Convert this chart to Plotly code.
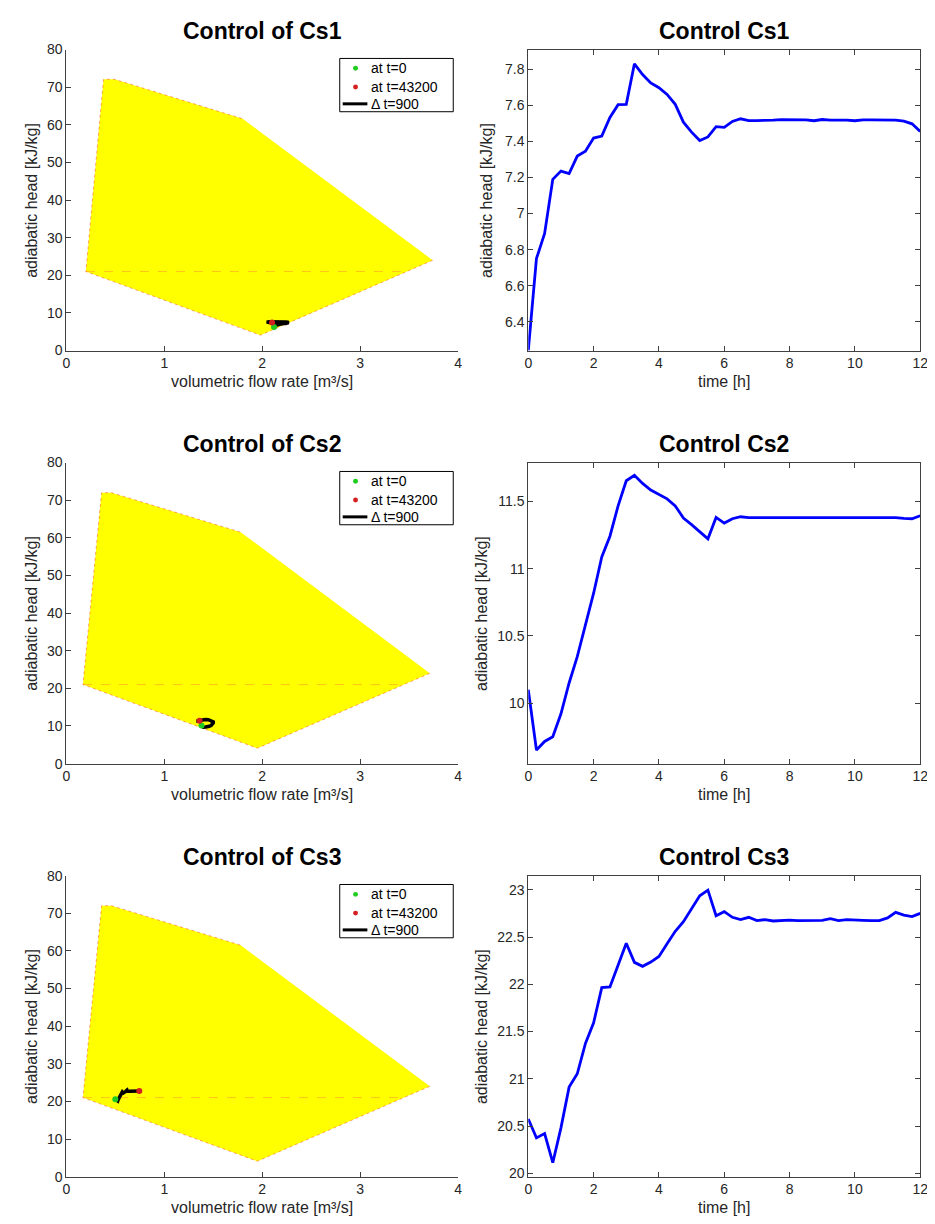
import plotly.graph_objects as go

W, H = 935, 1224

# ---------------- data ----------------
time_h = [0, 0.25, 0.5, 0.75, 1, 1.25, 1.5, 1.75, 2, 2.25, 2.5, 2.75, 3, 3.25, 3.5, 3.75,
          4, 4.25, 4.5, 4.75, 5, 5.25, 5.5, 5.75, 6, 6.25, 6.5, 6.75, 7, 7.25, 7.5, 7.75,
          8, 8.25, 8.5, 8.75, 9, 9.25, 9.5, 9.75, 10, 10.25, 10.5, 10.75, 11, 11.25, 11.5, 11.75, 12]

head_cs1 = [6.24, 6.75, 6.89, 7.19, 7.236, 7.222, 7.319, 7.346, 7.419, 7.43, 7.533, 7.604, 7.606,
            7.831, 7.771, 7.725, 7.698, 7.661, 7.606, 7.507, 7.452, 7.405, 7.425, 7.482, 7.478,
            7.511, 7.526, 7.516, 7.516, 7.516, 7.518, 7.521, 7.522, 7.519, 7.52, 7.515, 7.522,
            7.519, 7.52, 7.519, 7.515, 7.52, 7.52, 7.52, 7.519, 7.519, 7.513, 7.498, 7.456]

head_cs2 = [10.10, 9.651, 9.715, 9.75, 9.921, 10.15, 10.346, 10.592, 10.818, 11.088, 11.242,
            11.468, 11.655, 11.696, 11.635, 11.586, 11.556, 11.52, 11.468, 11.377, 11.328,
            11.277, 11.223, 11.382, 11.34, 11.372, 11.387, 11.38, 11.38, 11.38, 11.382, 11.385,
            11.385, 11.382, 11.382, 11.38, 11.385, 11.38, 11.382, 11.382, 11.38, 11.382, 11.382,
            11.382, 11.382, 11.38, 11.375, 11.372, 11.394]

head_cs3 = [20.575, 20.375, 20.42, 20.112, 20.481, 20.912, 21.053, 21.375, 21.593, 21.965,
            21.972, 22.207, 22.435, 22.232, 22.19, 22.235, 22.295, 22.428, 22.561, 22.663,
            22.796, 22.937, 22.996, 22.726, 22.768, 22.709, 22.684, 22.709, 22.674, 22.684,
            22.67, 22.674, 22.68, 22.674, 22.674, 22.674, 22.677, 22.695, 22.674, 22.684,
            22.677, 22.677, 22.674, 22.674, 22.702, 22.761, 22.733, 22.716, 22.75]

flow_cs1 = [2.12, 2.14, 2.17, 2.20, 2.22, 2.24, 2.25, 2.26, 2.27, 2.27, 2.26, 2.24, 2.22, 2.18,
            2.14, 2.11, 2.09, 2.07, 2.06, 2.06, 2.07, 2.08, 2.09, 2.10, 2.10, 2.10, 2.105, 2.105,
            2.105, 2.105, 2.105, 2.105, 2.105, 2.105, 2.105, 2.105, 2.105, 2.105, 2.105, 2.105,
            2.105, 2.105, 2.105, 2.105, 2.105, 2.105, 2.105, 2.10, 2.10]

flow_cs2 = [1.38, 1.40, 1.42, 1.44, 1.46, 1.48, 1.49, 1.50, 1.50, 1.50, 1.49, 1.47, 1.45, 1.42,
            1.40, 1.38, 1.36, 1.34, 1.33, 1.33, 1.33, 1.34, 1.35, 1.35, 1.36, 1.36, 1.36, 1.36,
            1.36, 1.36, 1.36, 1.36, 1.36, 1.36, 1.36, 1.36, 1.36, 1.36, 1.36, 1.36, 1.36, 1.36,
            1.36, 1.36, 1.36, 1.36, 1.36, 1.36, 1.36]

flow_cs3 = [0.50, 0.51, 0.52, 0.525, 0.53, 0.54, 0.545, 0.55, 0.555, 0.56, 0.562, 0.565, 0.57,
            0.575, 0.58, 0.585, 0.59, 0.595, 0.60, 0.605, 0.61, 0.615, 0.62, 0.625, 0.63, 0.635,
            0.64, 0.645, 0.65, 0.655, 0.66, 0.665, 0.67, 0.674, 0.678, 0.682, 0.686, 0.69, 0.694,
            0.698, 0.702, 0.706, 0.71, 0.715, 0.72, 0.725, 0.73, 0.737, 0.745]

# operating envelope (polygon vertices) for each compressor
env_flow_cs1 = [3.74, 1.98, 0.20, 0.38, 0.49, 1.80]
env_head_cs1 = [24.0, 4.1, 21.0, 72.1, 72.1, 61.6]
env_flow_cs2 = [3.71, 1.95, 0.17, 0.36, 0.46, 1.78]
env_head_cs2 = [24.0, 4.1, 21.0, 72.0, 72.0, 61.5]
env_flow_cs3 = [3.71, 1.95, 0.17, 0.36, 0.46, 1.78]
env_head_cs3 = [24.0, 4.1, 21.0, 72.0, 72.0, 61.5]
# internal dashed line of the envelope
mid_flow_cs1 = [0.20, 3.475]
mid_flow_cs2 = [0.17, 3.445]
mid_flow_cs3 = [0.17, 3.445]
mid_head = [21.0, 21.0]

names = ["Cs1", "Cs2", "Cs3"]
legend_labels = ["at t=0", "at t=43200", "\u0394 t=900"]
heads = [head_cs1, head_cs2, head_cs3]
flows = [flow_cs1, flow_cs2, flow_cs3]
env_f = [env_flow_cs1, env_flow_cs2, env_flow_cs3]
env_h = [env_head_cs1, env_head_cs2, env_head_cs3]
mid_f = [mid_flow_cs1, mid_flow_cs2, mid_flow_cs3]
right_ranges = [[6.24, 7.91], [9.55, 11.79], [19.965, 23.15]]
right_dticks = [0.2, 0.5, 0.5]
right_ylabel_x = [480, 475, 475]

# ---------------- layout geometry (pixels) ----------------
L_X0, L_X1 = 55, 452
R_X0, R_X1 = 523, 920
ROW_TOP = [34, 452.5, 871]
ROW_H = 305

FONT = "Liberation Sans, Arial, Helvetica, sans-serif"
TXT = "#262626"
AX = "#404040"
GREEN = "#1fcc1f"
RED = "#d42020"

fig = go.Figure()
annotations = []
shapes = []
layout_axes = {}


def px(x):
    return x / W


def py(y):
    return 1 - y / H


for i in range(3):
    top = ROW_TOP[i]
    bot = top + ROW_H
    xa_l = 2 * i + 1
    xa_r = 2 * i + 2
    sx_l = "" if xa_l == 1 else str(xa_l)
    sx_r = str(xa_r)

    # envelope polygon (fill) and its outline
    fig.add_trace(go.Scatter(
        x=env_f[i], y=env_h[i], mode="lines", fill="toself", fillcolor="#ffff00",
        line=dict(color="rgba(0,0,0,0)", width=0),
        showlegend=False, hoverinfo="skip", xaxis="x" + sx_l, yaxis="y" + sx_l))
    fig.add_trace(go.Scatter(
        x=env_f[i], y=env_h[i], mode="lines",
        line=dict(color="rgba(255,90,40,0.55)", width=1, dash="dot"),
        showlegend=False, hoverinfo="skip", xaxis="x" + sx_l, yaxis="y" + sx_l))
    fig.add_trace(go.Scatter(
        x=mid_f[i], y=mid_head, mode="lines",
        line=dict(color="rgba(255,120,60,0.45)", width=1, dash="dash"),
        showlegend=False, hoverinfo="skip", xaxis="x" + sx_l, yaxis="y" + sx_l))
    # trajectory
    fig.add_trace(go.Scatter(
        x=flows[i], y=heads[i], mode="lines", name=legend_labels[2],
        line=dict(color="black", width=3.5), showlegend=False,
        xaxis="x" + sx_l, yaxis="y" + sx_l))
    fig.add_trace(go.Scatter(
        x=[flows[i][0]], y=[heads[i][0]], mode="markers", name=legend_labels[0],
        marker=dict(color=GREEN, size=6), showlegend=False,
        xaxis="x" + sx_l, yaxis="y" + sx_l))
    fig.add_trace(go.Scatter(
        x=[flows[i][-1]], y=[heads[i][-1]], mode="markers", name=legend_labels[1],
        marker=dict(color=RED, size=6), showlegend=False,
        xaxis="x" + sx_l, yaxis="y" + sx_l))

    # time series
    fig.add_trace(go.Scatter(
        x=time_h, y=heads[i], mode="lines", line=dict(color="#0000ff", width=2.8),
        showlegend=False, xaxis="x" + sx_r, yaxis="y" + sx_r))

    dom_y = [py(bot), py(top)]
    common = dict(showgrid=False, zeroline=False, showline=True, linecolor=AX, linewidth=1,
                  ticks="inside", ticklen=5, tickcolor=AX, tickwidth=1,
                  tickfont=dict(family=FONT, size=14, color=TXT))
    layout_axes["xaxis" + sx_l] = dict(domain=[px(L_X0), px(L_X1)], range=[0, 4], dtick=1,
                                       tick0=0, anchor="y" + sx_l, mirror=False, **common)
    layout_axes["yaxis" + sx_l] = dict(domain=dom_y, range=[0, 80], dtick=10, tick0=0,
                                       anchor="x" + sx_l, mirror=False, **common)
    layout_axes["xaxis" + sx_r] = dict(domain=[px(R_X0), px(R_X1)], range=[0, 12], dtick=2,
                                       tick0=0, anchor="y" + sx_r, mirror="ticks", **common)
    layout_axes["yaxis" + sx_r] = dict(domain=dom_y, range=right_ranges[i],
                                       dtick=right_dticks[i], tick0=0,
                                       anchor="x" + sx_r, mirror="ticks", **common)

    # legend box (drawn manually to match the compact original)
    lx0, lx1 = 332, 447
    ly0, ly1 = top + 9, top + 63
    shapes.append(dict(type="rect", xref="paper", yref="paper",
                       x0=px(lx0), x1=px(lx1), y0=py(ly1), y1=py(ly0),
                       line=dict(color="black", width=1), fillcolor="white", layer="above"))
    rows = [top + 19, top + 38, top + 55]
    for col, ry in zip([GREEN, RED], rows[:2]):
        shapes.append(dict(type="circle", xref="paper", yref="paper",
                           x0=px(345.5), x1=px(350.5), y0=py(ry + 2.5), y1=py(ry - 2.5),
                           line=dict(color=col, width=0), fillcolor=col, layer="above"))
    shapes.append(dict(type="line", xref="paper", yref="paper",
                       x0=px(335), x1=px(360), y0=py(rows[2]), y1=py(rows[2]),
                       line=dict(color="black", width=3), layer="above"))
    for lab, ry in zip(legend_labels, rows):
        annotations.append(dict(text=lab, x=px(362), y=py(ry), xref="paper", yref="paper",
                                showarrow=False, xanchor="left", yanchor="middle",
                                font=dict(family=FONT, size=14, color="black")))

    # titles
    annotations.append(dict(text=f"<b>Control of {names[i]}</b>", x=px((L_X0 + L_X1) / 2),
                            y=py(top - 19), xref="paper", yref="paper", showarrow=False,
                            xanchor="center", yanchor="middle",
                            font=dict(family=FONT, size=23, color="black")))
    annotations.append(dict(text=f"<b>Control {names[i]}</b>", x=px((R_X0 + R_X1) / 2),
                            y=py(top - 19), xref="paper", yref="paper", showarrow=False,
                            xanchor="center", yanchor="middle",
                            font=dict(family=FONT, size=23, color="black")))
    # axis labels
    annotations.append(dict(text="volumetric flow rate [m\u00b3/s]", x=px((L_X0 + L_X1) / 2),
                            y=py(bot + 31), xref="paper", yref="paper", showarrow=False,
                            xanchor="center", yanchor="middle",
                            font=dict(family=FONT, size=16, color=TXT)))
    annotations.append(dict(text="time [h]", x=px((R_X0 + R_X1) / 2),
                            y=py(bot + 31), xref="paper", yref="paper", showarrow=False,
                            xanchor="center", yanchor="middle",
                            font=dict(family=FONT, size=16, color=TXT)))
    annotations.append(dict(text="adiabatic head [kJ/kg]", x=px(19), y=py((top + bot) / 2),
                            xref="paper", yref="paper", showarrow=False, textangle=-90,
                            xanchor="center", yanchor="middle",
                            font=dict(family=FONT, size=16, color=TXT)))
    annotations.append(dict(text="adiabatic head [kJ/kg]", x=px(right_ylabel_x[i]),
                            y=py((top + bot) / 2),
                            xref="paper", yref="paper", showarrow=False, textangle=-90,
                            xanchor="center", yanchor="middle",
                            font=dict(family=FONT, size=16, color=TXT)))

fig.update_layout(width=W, height=H, autosize=False,
                  margin=dict(l=0, r=0, t=0, b=0),
                  paper_bgcolor="white", plot_bgcolor="white",
                  font=dict(family=FONT, color=TXT), showlegend=False,
                  annotations=annotations, shapes=shapes, **layout_axes)

fig.write_html("out.html")
